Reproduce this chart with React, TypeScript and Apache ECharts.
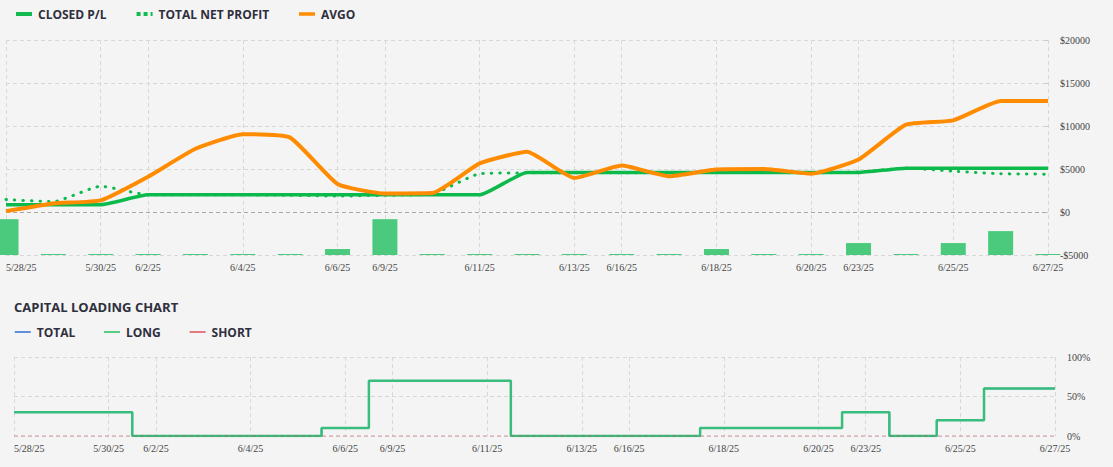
import React, { useEffect, useRef } from 'react';
import * as echarts from 'echarts';

const categories = [
  '5/28/25', '5/29/25', '5/30/25', '6/2/25', '6/3/25', '6/4/25', '6/5/25', '6/6/25',
  '6/9/25', '6/10/25', '6/11/25', '6/12/25', '6/13/25', '6/16/25', '6/17/25', '6/18/25',
  '6/19/25', '6/20/25', '6/23/25', '6/24/25', '6/25/25', '6/26/25', '6/27/25',
];

const tickLabels = [
  '5/28/25', '5/30/25', '6/2/25', '6/4/25', '6/6/25', '6/9/25', '6/11/25',
  '6/13/25', '6/16/25', '6/18/25', '6/20/25', '6/23/25', '6/25/25', '6/27/25',
];

const closedPL = [
  850, 850, 850, 2000, 2000, 2000, 2000, 2000, 2000, 2000, 2000, 4600,
  4600, 4600, 4600, 4600, 4600, 4600, 4600, 5100, 5100, 5100, 5100,
];

const totalNetProfit = [
  1450, 1200, 3000, 2000, 2000, 2000, 1950, 1850, 1950, 2100, 4450, 4550,
  4550, 4550, 4550, 4600, 4600, 4550, 4650, 5100, 4750, 4450, 4400,
];

const avgo = [
  100, 1000, 1350, 4100, 7350, 9050, 8650, 3250, 2150, 2200, 5650, 7000,
  3950, 5400, 4150, 4950, 5000, 4450, 6100, 10150, 10650, 12900, 12900,
];

const tradeBars = [6, 0, 0, 0, 0, 0, 0, 1, 6, 0, 0, 0, 0, 0, 0, 1, 0, 0, 2, 0, 2, 4, 0];

const capitalTotal = [30, 30, 30, 0, 0, 0, 0, 10, 70, 70, 70, 0, 0, 0, 0, 10, 10, 10, 30, 0, 20, 60, 60];
const capitalLong = [30, 30, 30, 0, 0, 0, 0, 10, 70, 70, 70, 0, 0, 0, 0, 10, 10, 10, 30, 0, 20, 60, 60];
const capitalShort = [0, 0, 0, 0, 0, 0, 0, 0, 0, 0, 0, 0, 0, 0, 0, 0, 0, 0, 0, 0, 0, 0, 0];

const GREEN = '#0cba4c';
const ORANGE = '#ff8c00';
const BAR = '#4bca7d';
const GRID_LINE = '#d8d8d8';
const LABEL_FONT = 'Liberation Serif';
const UI_FONT = 'Open Sans';
const TEXT_DARK = '#2f2f3d';
const SMOOTH = 0.15;

const showTick = (_i: number, v: string) => tickLabels.includes(v);

export default function App() {
  const ref = useRef<HTMLDivElement>(null);

  useEffect(() => {
    if (!ref.current) return;
    const chart = echarts.init(ref.current, undefined, { renderer: 'svg' });

    const axisLabelStyle = {
      fontFamily: LABEL_FONT,
      fontSize: 10,
      color: '#444',
    };

    const legendText = {
      fontFamily: UI_FONT,
      fontSize: 12,
      fontWeight: 'bold' as const,
      color: TEXT_DARK,
      padding: [0, 0, 0, 1],
    };

    const option: any = {
      animation: false,
      backgroundColor: '#f4f4f4',
      title: {
        text: 'CAPITAL LOADING CHART',
        left: 14,
        top: 300,
        padding: 0,
        textStyle: { fontFamily: UI_FONT, fontSize: 13, fontWeight: 'bold', color: TEXT_DARK },
      },
      legend: [
        {
          left: 14,
          top: 8,
          padding: 0,
          itemWidth: 16,
          itemHeight: 4,
          itemGap: 28,
          textStyle: legendText,
          data: [
            { name: 'CLOSED P/L', itemStyle: { opacity: 0 }, lineStyle: { width: 4, type: 'solid', color: '#13bb4f' } },
            { name: 'TOTAL NET PROFIT', itemStyle: { opacity: 0 }, lineStyle: { width: 4, type: [4, 3], cap: 'butt', color: '#13bb4f' } },
            { name: 'AVGO', itemStyle: { opacity: 0 }, lineStyle: { width: 3.5, type: 'solid', color: ORANGE } },
          ],
        },
        {
          left: 14,
          top: 326,
          padding: 0,
          itemWidth: 16,
          itemHeight: 2,
          itemGap: 28,
          textStyle: legendText,
          data: [
            { name: 'TOTAL', itemStyle: { opacity: 0 }, lineStyle: { width: 1.5, type: 'solid', color: '#2f6fd6' } },
            { name: 'LONG', itemStyle: { opacity: 0 }, lineStyle: { width: 1.5, type: 'solid', color: '#22c061' } },
            { name: 'SHORT', itemStyle: { opacity: 0 }, lineStyle: { width: 1.5, type: 'solid', color: '#e0505a' } },
          ],
        },
      ],
      grid: [
        { left: 6, right: 65, top: 40, bottom: 212 },
        { left: 14, right: 58, top: 357, bottom: 31 },
      ],
      xAxis: [
        {
          type: 'category',
          gridIndex: 0,
          data: categories,
          boundaryGap: false,
          axisLine: { show: false },
          axisTick: { show: false },
          axisLabel: { ...axisLabelStyle, interval: showTick, margin: 7, alignMinLabel: 'left' },
          splitLine: { show: true, interval: showTick, lineStyle: { type: [4, 3], color: GRID_LINE } },
        },
        {
          type: 'category',
          gridIndex: 1,
          data: categories,
          boundaryGap: false,
          axisLine: { show: false },
          axisTick: { show: false },
          axisLabel: { ...axisLabelStyle, interval: showTick, margin: 7, alignMinLabel: 'left' },
          splitLine: { show: true, interval: showTick, lineStyle: { type: [4, 3], color: GRID_LINE } },
        },
      ],
      yAxis: [
        {
          type: 'value',
          gridIndex: 0,
          position: 'right',
          min: -5000,
          max: 20000,
          interval: 5000,
          axisLine: { show: false },
          axisTick: { show: true, inside: true, length: 3, lineStyle: { color: '#c8c8c8' } },
          axisLabel: {
            ...axisLabelStyle,
            margin: 12,
            formatter: (v: number) => (v < 0 ? '-$' + Math.abs(v) : '$' + v),
          },
          splitLine: { show: true, lineStyle: { type: [4, 3], color: GRID_LINE } },
        },
        {
          type: 'value',
          gridIndex: 0,
          min: 0,
          max: 36,
          show: false,
          splitLine: { show: false },
        },
        {
          type: 'value',
          gridIndex: 1,
          position: 'right',
          min: 0,
          max: 100,
          interval: 50,
          axisLine: { show: false },
          axisTick: { show: false },
          axisLabel: { ...axisLabelStyle, margin: 12, formatter: '{value}%' },
          splitLine: { show: true, lineStyle: { type: [4, 3], color: GRID_LINE } },
        },
      ],
      series: [
        {
          name: 'TRADES',
          type: 'bar',
          xAxisIndex: 0,
          yAxisIndex: 1,
          data: tradeBars,
          barWidth: 25,
          barMinHeight: 1,
          itemStyle: { color: BAR },
          z: 1,
        },
        {
          name: 'CLOSED P/L',
          type: 'line',
          xAxisIndex: 0,
          yAxisIndex: 0,
          data: closedPL,
          smooth: SMOOTH,
          symbol: 'none',
          color: GREEN,
          lineStyle: { width: 3.5, color: GREEN },
          z: 3,
          markLine: {
            silent: true,
            symbol: ['none', 'none'],
            label: { show: false },
            lineStyle: { type: [4, 3], color: '#a8a8a8', width: 1 },
            data: [{ yAxis: 0 }],
            z: 2,
          },
        },
        {
          name: 'TOTAL NET PROFIT',
          type: 'line',
          xAxisIndex: 0,
          yAxisIndex: 0,
          data: totalNetProfit,
          smooth: SMOOTH,
          symbol: 'none',
          color: GREEN,
          lineStyle: { width: 3, color: GREEN, type: [0.5, 8], cap: 'round' },
          z: 4,
        },
        {
          name: 'AVGO',
          type: 'line',
          xAxisIndex: 0,
          yAxisIndex: 0,
          data: avgo,
          smooth: SMOOTH,
          symbol: 'none',
          color: ORANGE,
          lineStyle: { width: 4, color: ORANGE },
          z: 5,
        },
        {
          name: 'TOTAL',
          type: 'line',
          xAxisIndex: 1,
          yAxisIndex: 2,
          data: capitalTotal,
          step: 'middle',
          symbol: 'none',
          color: '#2f6fd6',
          lineStyle: { width: 1.5, color: '#2f6fd6' },
          z: 3,
        },
        {
          name: 'LONG',
          type: 'line',
          xAxisIndex: 1,
          yAxisIndex: 2,
          data: capitalLong,
          step: 'middle',
          symbol: 'none',
          color: '#22c061',
          lineStyle: { width: 2.5, color: '#38bd7c' },
          z: 4,
        },
        {
          name: 'SHORT',
          type: 'line',
          xAxisIndex: 1,
          yAxisIndex: 2,
          data: capitalShort,
          step: 'middle',
          symbol: 'none',
          color: '#e0505a',
          lineStyle: { width: 1.5, color: 'rgba(200, 70, 80, 0.35)', type: [4, 3] },
          z: 5,
        },
      ],
    };

    chart.setOption(option);
    return () => {
      chart.dispose();
    };
  }, []);

  return (
    <div
      ref={ref}
      style={{ position: 'fixed', left: 0, top: 0, width: 1113, height: 467, background: '#f4f4f4' }}
    />
  );
}
